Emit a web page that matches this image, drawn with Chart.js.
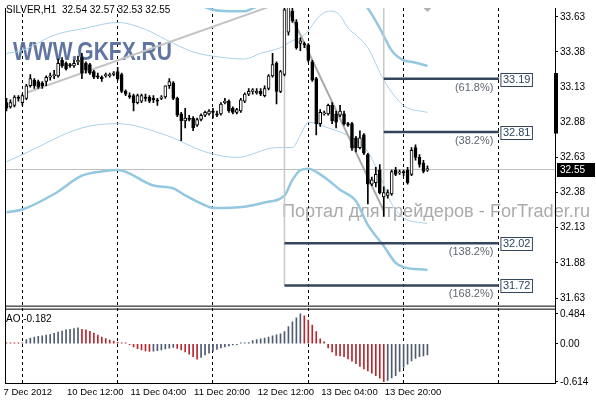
<!DOCTYPE html>
<html>
<head>
<meta charset="utf-8">
<script src="https://cdn.jsdelivr.net/npm/chart.js@4.4.1/dist/chart.umd.min.js"></script>
<style>
  html, body { margin: 0; padding: 0; background: #fff; }
</style>
</head>
<body>
<canvas id="chart" width="596" height="400"></canvas>
<script>
// SILVER H1 candles, bar index 0 = 7 Dec 2012 20:00
const opens = [
  33.02, 32.99, 33.00, 33.06, 33.02, 33.05, 33.14, 33.18, 33.17, 33.16,
  33.17, 33.20, 33.21, 33.21, 33.32, 33.30, 33.29, 33.28, 33.31, 33.34,
  33.30, 33.29, 33.24, 33.21, 33.20, 33.21, 33.21, 33.22, 33.24, 33.22,
  33.10, 33.07, 33.07, 33.02, 33.03, 33.06, 33.06, 33.05, 33.04, 33.05,
  33.06, 33.14, 33.16, 33.05, 32.94, 32.89, 32.91, 32.91, 32.86, 32.90,
  32.93, 32.94, 32.96, 32.94, 32.94, 33.02, 33.03, 32.98, 32.95, 32.96,
  33.03, 33.08, 33.10, 33.09, 33.10, 33.07, 33.12, 33.21, 33.30, 33.10,
  33.22, 33.52, 33.67, 33.59, 33.44, 33.44, 33.43, 33.31, 33.19, 32.87,
  32.94, 32.94, 33.00, 32.94, 32.93, 32.94, 32.87, 32.87, 32.77, 32.70,
  32.79, 32.65, 32.44, 32.45, 32.54, 32.35, 32.36, 32.37, 32.54, 32.52,
  32.53, 32.54, 32.51, 32.70, 32.63, 32.59, 32.54
];
const highs = [
  33.05, 33.04, 33.07, 33.07, 33.08, 33.15, 33.22, 33.19, 33.18, 33.17,
  33.21, 33.23, 33.25, 33.33, 33.34, 33.31, 33.30, 33.32, 33.35, 33.37,
  33.31, 33.30, 33.25, 33.23, 33.21, 33.23, 33.23, 33.24, 33.27, 33.23,
  33.11, 33.09, 33.08, 33.08, 33.08, 33.08, 33.07, 33.07, 33.05, 33.07,
  33.14, 33.19, 33.17, 33.06, 32.95, 32.98, 32.93, 32.92, 32.91, 32.94,
  32.96, 32.97, 32.98, 32.96, 33.02, 33.05, 33.04, 32.99, 32.98, 33.05,
  33.09, 33.12, 33.12, 33.12, 33.12, 33.14, 33.22, 33.37, 33.31, 33.25,
  33.73, 33.80, 33.74, 33.61, 33.48, 33.45, 33.44, 33.32, 33.20, 32.97,
  32.96, 33.01, 33.02, 32.96, 33.00, 32.96, 32.88, 32.88, 32.78, 32.82,
  32.80, 32.66, 32.49, 32.56, 32.58, 32.42, 32.40, 32.54, 32.56, 32.54,
  32.54, 32.56, 32.70, 32.72, 32.65, 32.61, 32.57
];
const lows = [
  32.96, 32.98, 32.99, 33.03, 33.00, 33.04, 33.13, 33.12, 33.12, 33.12,
  33.14, 33.18, 33.19, 33.20, 33.27, 33.25, 33.27, 33.27, 33.29, 33.19,
  33.23, 33.22, 33.19, 33.19, 33.17, 33.20, 33.20, 33.21, 33.18, 33.09,
  33.07, 33.05, 32.96, 33.01, 33.02, 33.03, 33.02, 33.02, 33.00, 33.04,
  33.05, 33.12, 33.04, 32.92, 32.75, 32.84, 32.89, 32.82, 32.85, 32.89,
  32.92, 32.93, 32.91, 32.92, 32.93, 33.01, 32.95, 32.94, 32.94, 32.95,
  33.02, 33.07, 33.08, 33.08, 33.07, 33.06, 33.11, 33.20, 33.01, 33.09,
  33.21, 33.50, 33.59, 33.40, 33.39, 33.41, 33.31, 33.17, 32.79, 32.85,
  32.93, 32.93, 32.87, 32.84, 32.92, 32.86, 32.85, 32.68, 32.67, 32.69,
  32.65, 32.30, 32.43, 32.42, 32.37, 32.21, 32.34, 32.36, 32.50, 32.51,
  32.50, 32.44, 32.50, 32.61, 32.56, 32.52, 32.53
];
const closes = [
  32.98, 33.02, 33.06, 33.05, 33.07, 33.14, 33.19, 33.14, 33.13, 33.14,
  33.20, 33.21, 33.22, 33.30, 33.28, 33.26, 33.28, 33.30, 33.32, 33.23,
  33.25, 33.23, 33.20, 33.20, 33.19, 33.22, 33.22, 33.23, 33.19, 33.10,
  33.08, 33.06, 33.02, 33.07, 33.07, 33.05, 33.03, 33.04, 33.03, 33.06,
  33.14, 33.17, 33.05, 32.93, 32.89, 32.91, 32.90, 32.84, 32.90, 32.93,
  32.95, 32.96, 32.95, 32.93, 33.01, 33.03, 32.96, 32.95, 32.97, 33.04,
  33.08, 33.10, 33.11, 33.10, 33.08, 33.12, 33.21, 33.29, 33.10, 33.24,
  33.68, 33.76, 33.60, 33.41, 33.46, 33.43, 33.32, 33.18, 32.87, 32.95,
  32.94, 33.00, 32.89, 32.88, 32.96, 32.87, 32.86, 32.70, 32.70, 32.77,
  32.66, 32.44, 32.47, 32.51, 32.38, 32.38, 32.38, 32.53, 32.51, 32.52,
  32.52, 32.45, 32.68, 32.63, 32.58, 32.53, 32.55
];

// Awesome Oscillator
const aoVals = [
  0.012, 0.008, 0.004, 0.002, 0.012, 0.066, 0.092, 0.108, 0.119, 0.13,
  0.14, 0.15, 0.17, 0.19, 0.206, 0.224, 0.235, 0.245, 0.256, 0.234,
  0.224, 0.203, 0.171, 0.139, 0.108, 0.082, 0.06, 0.044, 0.024, 0.01,
  0.002, -0.013, -0.05, -0.08, -0.10, -0.115, -0.125, -0.12, -0.11, -0.10,
  -0.085, -0.07, -0.06, -0.075, -0.10, -0.13, -0.17, -0.21, -0.25, -0.22,
  -0.18, -0.15, -0.12, -0.092, -0.066, -0.05, -0.035, -0.02, -0.008, 0.002,
  0.008, 0.02, 0.05, 0.066, 0.08, 0.092, 0.108, 0.13, 0.145, 0.161,
  0.198, 0.277, 0.356, 0.419, 0.484, 0.45, 0.383, 0.30, 0.198, 0.08,
  0.03, -0.066, -0.13, -0.19, -0.198, -0.21, -0.245, -0.283, -0.32, -0.365,
  -0.405, -0.44, -0.475, -0.515, -0.555, -0.614, -0.593, -0.55, -0.514, -0.446,
  -0.383, -0.33, -0.277, -0.235, -0.21, -0.195, -0.182
];

// band lines (bar index / price)
const thinUpIdx = [0, 4, 12, 20, 28, 35, 40, 47, 52, 60, 64, 69, 72, 74, 76, 78, 80, 82, 84, 86, 88, 91, 95, 100, 106];
const thinUpVal = [33.37, 33.39, 33.50, 33.55, 33.59, 33.54, 33.47, 33.38, 33.35, 33.33, 33.37, 33.41, 33.46, 33.48, 33.53, 33.61, 33.66, 33.67, 33.64, 33.55, 33.50, 33.41, 33.18, 33.00, 32.95];
const thinLoIdx = [0, 4, 19, 28, 40, 50, 58, 68, 72, 74, 76, 81, 87, 91, 94, 97, 100, 106];
const thinLoVal = [32.60, 32.65, 32.84, 32.87, 32.79, 32.67, 32.63, 32.70, 32.70, 32.79, 32.88, 32.84, 32.77, 32.67, 32.50, 32.30, 32.20, 32.16];
const thickUpIdx = [0, 28, 45, 50, 52, 56, 60, 62, 66, 70, 88, 91, 94, 97, 100, 102, 106];
const thickUpVal = [33.74, 33.94, 33.75, 33.70, 33.68, 33.67, 33.67, 33.69, 33.74, 33.79, 33.79, 33.69, 33.55, 33.39, 33.32, 33.31, 33.28];
const thickLoIdx = [0, 4, 12, 19, 24, 28, 37, 42, 45, 50, 52, 60, 65, 70, 72, 74, 76, 80, 84, 88, 91, 95, 98, 100, 106];
const thickLoVal = [32.24, 32.26, 32.37, 32.50, 32.53, 32.54, 32.43, 32.41, 32.36, 32.29, 32.27, 32.28, 32.31, 32.36, 32.47, 32.54, 32.55, 32.49, 32.40, 32.32, 32.15, 32.00, 31.88, 31.85, 31.83];

// drawn objects
const trendIdx = [5, 70];
const trendVal = [33.09, 33.74];
const fibTrendIdx = [71, 95];
const fibTrendVal = [33.68, 32.25];
const fibLevels = [33.19, 32.81, 32.02, 31.72];
const fibNames = ['(61.8%)', '(38.2%)', '(138.2%)', '(168.2%)'];
const fibStart = [95, 95, 70, 70];
const fibEnd = 124;
const anchorIdx = [70, 95];
const anchorLow = [31.72, 32.21];
const markRange = [32.80, 33.23];

// axes
const timeTickIdx = [0, 16, 32, 48, 64, 80, 96];
const timeTickLabels = ['7 Dec 2012', '10 Dec 12:00', '11 Dec 04:00', '11 Dec 20:00', '12 Dec 12:00', '13 Dec 04:00', '13 Dec 20:00'];
const daySepIdx = [4, 28, 52, 76, 100, 124];
const priceTicks = [33.63, 33.38, 33.13, 32.88, 32.63, 32.38, 32.13, 31.88, 31.63];
const aoTicks = [0.484, 0, -0.614];
const aoTickLabels = ['0.484', '0.00', '-0.614'];

const xMin = -0.375, xMax = 138.125;
const priceMin = 31.5618, priceMax = 33.6927;
const aoMin = -0.650, aoMax = 0.584;

const SLATE = '#4e5b70', RED = '#b8262e';
const FIBC = '#34465b';

Chart.defaults.font.family = '"Liberation Sans", Arial, sans-serif';
Chart.defaults.color = '#000';

const pts = (idx, val) => idx.map((x, k) => ({ x, y: val[k] }));

function lineSet(data, color, width, order, smooth) {
  return {
    type: 'line', data, borderColor: color, borderWidth: width, pointRadius: 0,
    fill: false, order, xAxisID: 'x', yAxisID: 'y',
    tension: smooth ? 0.4 : 0, cubicInterpolationMode: smooth ? 'monotone' : 'default'
  };
}

const datasets = [
  {
    type: 'bar', order: 0, grouped: false, barThickness: 3, minBarLength: 1,
    data: opens.map((o, i) => ({ x: i, y: [o, closes[i]] })),
    backgroundColor: opens.map((o, i) => closes[i] >= o ? '#ffffff' : '#000000'),
    borderColor: '#000', borderWidth: 1, borderSkipped: false,
    xAxisID: 'x', yAxisID: 'y'
  },
  {
    type: 'bar', order: 1, grouped: false, barThickness: 1, minBarLength: 1,
    data: lows.map((l, i) => ({ x: i, y: [l, highs[i]] })),
    backgroundColor: '#000', borderWidth: 0,
    xAxisID: 'x', yAxisID: 'y'
  },
  {
    type: 'bar', order: 1, grouped: false, barThickness: 1, minBarLength: 1,
    data: aoVals.map((v, i) => ({ x: i, y: v })),
    backgroundColor: aoVals.map((v, i) => i > 0 && v >= aoVals[i - 1] ? SLATE : RED),
    borderWidth: 0, xAxisID: 'x', yAxisID: 'yao'
  },
  lineSet(pts(thickUpIdx, thickUpVal), '#93c8e0', 2.5, 6, true),
  lineSet(pts(thickLoIdx, thickLoVal), '#93c8e0', 2.5, 6, true),
  lineSet(pts(thinUpIdx, thinUpVal), '#a8d2e5', 1, 6, true),
  lineSet(pts(thinLoIdx, thinLoVal), '#a8d2e5', 1, 6, true),
  lineSet(pts(trendIdx, trendVal), '#c4c4c4', 2, 5, false),
  lineSet(pts(fibTrendIdx, fibTrendVal), '#a9a9a9', 2, 5, false),
  ...anchorIdx.map((a, k) => lineSet([{ x: a, y: priceMax + 0.1 }, { x: a, y: anchorLow[k] }], '#c8c8c8', 1.5, 5, false)),
  ...fibLevels.map((lv, k) => lineSet([{ x: fibStart[k], y: lv }, { x: fibEnd, y: lv }], FIBC, 2.5, 4, false)),
  {
    type: 'scatter', order: 3, data: [{ x: 106, y: 33.70 }],
    pointStyle: 'rectRot', pointRadius: 5, backgroundColor: '#b0b0b0', borderWidth: 0,
    xAxisID: 'x', yAxisID: 'y'
  }
];

function fitText(ctx, text, x, baseline, width, yScale) {
  const w = ctx.measureText(text).width;
  ctx.save();
  ctx.translate(x, baseline);
  ctx.scale(width / w, yScale);
  ctx.fillText(text, 0, 0);
  ctx.restore();
}

const decor = {
  id: 'decor',
  beforeDatasetsDraw(chart) {
    const { ctx, chartArea: a } = chart;
    const y = chart.scales.y;
    ctx.save();
    ctx.textAlign = 'left';
    ctx.textBaseline = 'alphabetic';
    ctx.fillStyle = 'rgba(80,102,152,0.9)';
    ctx.font = 'bold 22px "Liberation Sans"';
    fitText(ctx, 'WWW.GKFX.RU', 13, 60, 159, 1.14);
    ctx.fillStyle = '#ababab';
    ctx.font = '18px "Liberation Sans"';
    fitText(ctx, 'Портал для трейдеров - ForTrader.ru', 282, 217, 308, 1);
    // last price line
    const py = Math.round(y.getPixelForValue(closes[closes.length - 1])) + 0.5;
    ctx.strokeStyle = '#bdbdbd';
    ctx.lineWidth = 1;
    ctx.beginPath();
    ctx.moveTo(a.left, py);
    ctx.lineTo(a.right, py);
    ctx.stroke();
    ctx.restore();
  },
  afterDraw(chart) {
    const { ctx, chartArea: a } = chart;
    const x = chart.scales.x, y = chart.scales.y, yao = chart.scales.yao;
    ctx.save();
    // panel frames
    ctx.strokeStyle = '#000';
    ctx.lineWidth = 1;
    ctx.beginPath();
    ctx.moveTo(a.left + 0.5, y.top); ctx.lineTo(a.left + 0.5, a.bottom);
    ctx.moveTo(a.right + 0.5, y.top); ctx.lineTo(a.right + 0.5, a.bottom);
    ctx.moveTo(a.left, y.bottom - 1.5); ctx.lineTo(a.right, y.bottom - 1.5);
    ctx.moveTo(a.left, yao.top + 1.5); ctx.lineTo(a.right, yao.top + 1.5);
    ctx.moveTo(a.left, a.bottom - 0.5); ctx.lineTo(a.right, a.bottom - 0.5);
    ctx.stroke();

    // fib labels
    ctx.font = '11px "Liberation Sans"';
    ctx.textBaseline = 'middle';
    const bx = x.getPixelForValue(fibEnd) + 1.5;
    fibLevels.forEach((lv, k) => {
      const ly = y.getPixelForValue(lv);
      const txt = lv.toFixed(2);
      const w = ctx.measureText(txt).width + 4;
      ctx.fillStyle = '#fff';
      ctx.fillRect(bx, Math.round(ly) - 5.5, w, 13);
      ctx.strokeStyle = FIBC;
      ctx.strokeRect(bx + 0.5, Math.round(ly) - 5.5, w, 13);
      ctx.fillStyle = '#2c4560';
      ctx.textAlign = 'left';
      ctx.fillText(txt, bx + 2.5, Math.round(ly) + 1);
      ctx.fillStyle = '#5e6670';
      ctx.textAlign = 'right';
      ctx.fillText(fibNames[k], bx - 7, ly + 9);
    });

    // selected range marker on the price scale
    const m1 = y.getPixelForValue(markRange[1]), m0 = y.getPixelForValue(markRange[0]);
    ctx.fillStyle = '#000';
    ctx.fillRect(a.right - 1, m1, 4, m0 - m1);

    // current price box
    const last = closes[closes.length - 1];
    const py = Math.round(y.getPixelForValue(last));
    ctx.fillStyle = '#000';
    ctx.fillRect(a.right + 2, py - 6, 38, 14);
    ctx.fillStyle = '#fff';
    ctx.font = '10px "Liberation Sans"';
    ctx.textAlign = 'left';
    ctx.fillText(last.toFixed(2), a.right + 5, py + 1);

    // captions
    ctx.fillStyle = '#000';
    const lastI = closes.length - 1;
    ctx.fillText('SILVER,H1  ' + [opens[lastI], highs[lastI], lows[lastI], closes[lastI]].map(v => v.toFixed(2)).join(' '), 6, 10);
    ctx.fillText('AO ' + aoVals[lastI].toFixed(3), 6, yao.top + 12);
    ctx.restore();
  }
};

new Chart(document.getElementById('chart'), {
  type: 'bar',
  data: { datasets },
  plugins: [decor],
  options: {
    responsive: false,
    animation: false,
    layout: { padding: { left: 1, right: 0, top: 0, bottom: 0 } },
    plugins: { legend: { display: false }, tooltip: { enabled: false } },
    scales: {
      x: {
        type: 'linear', position: 'bottom', min: xMin, max: xMax, offset: false,
        afterBuildTicks: s => { s.ticks = timeTickIdx.map(v => ({ value: v })); },
        afterFit: s => { s.height = 16; },
        grid: { display: false, drawTicks: false, offset: false },
        border: { display: false },
        ticks: {
          autoSkip: false, maxRotation: 0, align: 'start', padding: 3, labelOffset: -3,
          font: { size: 9.5 }, callback: (v, i) => timeTickLabels[i]
        }
      },
      xs: {
        type: 'linear', position: 'bottom', min: xMin, max: xMax, offset: false,
        afterBuildTicks: s => { s.ticks = daySepIdx.map(v => ({ value: v })); },
        afterFit: s => { s.height = 0; },
        grid: { color: '#000', lineWidth: 1, drawTicks: false, offset: false },
        border: { display: false, dash: [3, 3] },
        ticks: { display: false }
      },
      y: {
        type: 'linear', position: 'right', stack: 'pane', stackWeight: 306,
        min: priceMin, max: priceMax,
        afterBuildTicks: s => { s.ticks = priceTicks.map(v => ({ value: v })); },
        afterFit: s => { s.width = 41; },
        grid: { drawOnChartArea: false, tickLength: 3, tickColor: '#000' },
        border: { display: false },
        ticks: { padding: 2, font: { size: 10 }, callback: v => v.toFixed(2) }
      },
      yao: {
        type: 'linear', position: 'right', stack: 'pane', stackWeight: 78,
        min: aoMin, max: aoMax,
        afterBuildTicks: s => { s.ticks = aoTicks.map(v => ({ value: v })); },
        afterFit: s => { s.width = 41; },
        grid: { drawOnChartArea: false, tickLength: 3, tickColor: '#000' },
        border: { display: false },
        ticks: { padding: 2, font: { size: 10 }, callback: (v, i) => aoTickLabels[i] }
      }
    }
  }
});
</script>
</body>
</html>
